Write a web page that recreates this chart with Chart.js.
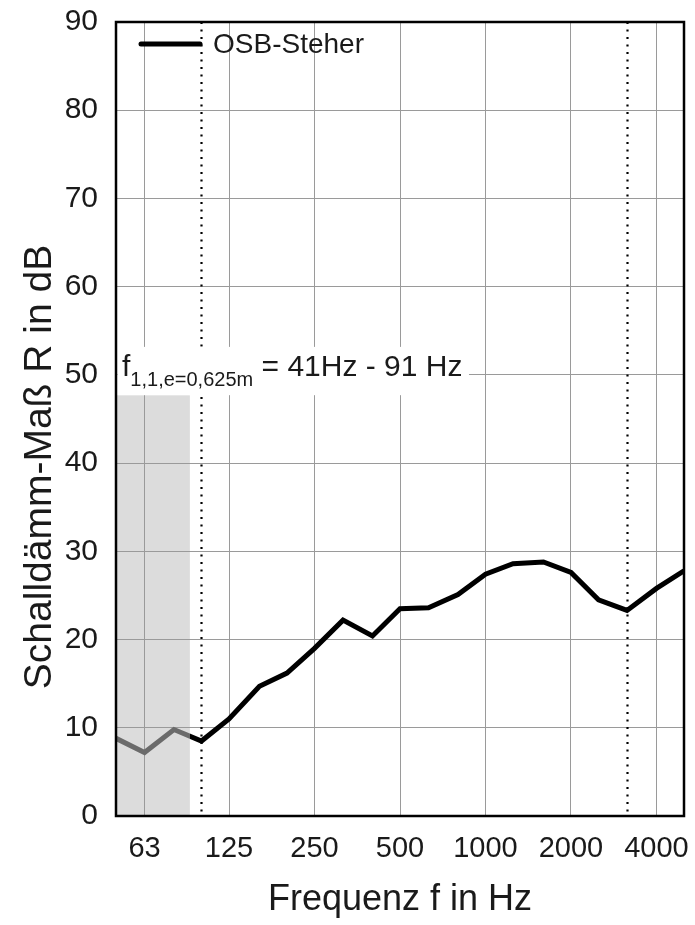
<!DOCTYPE html>
<html lang="de">
<head>
<meta charset="UTF-8">
<title>Schalldämm-Maß OSB-Steher</title>
<style>
  html, body { margin: 0; padding: 0; background: #fff; }
  #wrap { width: 695px; height: 925px; }
</style>
</head>
<body>
<script src="https://cdn.jsdelivr.net/npm/chart.js"></script>
<div id="wrap">
  <canvas id="myChart" width="695" height="925"></canvas>
</div>
<script>
// third-octave bands, Hz
const freqs = [50, 63, 80, 100, 125, 160, 200, 250, 315, 400, 500, 630, 800, 1000, 1250, 1600, 2000, 2500, 3150, 4000, 5000];
// Schalldämm-Maß R in dB
const osbSteher = [8.8, 7.2, 9.8, 8.5, 11.0, 14.7, 16.2, 19.0, 22.2, 20.4, 23.5, 23.6, 25.1, 27.4, 28.6, 28.8, 27.6, 24.5, 23.3, 25.8, 27.8];
const xTickLabels = [63, 125, 250, 500, 1000, 2000, 4000];
const yTickLabels = [0, 10, 20, 30, 40, 50, 60, 70, 80, 90];
const markerFreqs = [100, 3150];      // dotted lines
const shadeRange = [41, 91];          // f_1,1 range
const shadeTop = 47.7;
const yTitle = 'Schalldämm-Maß R in dB';

const FONT = '"Liberation Sans", Arial, sans-serif';
const TXT = '#1a1a1a';
const GRAY = '#6b6b6b';

function lineColor(ctx) {
  const chart = ctx.chart;
  const a = chart.chartArea;
  if (!a) return '#000';
  const px = chart.scales.x.getPixelForValue(shadeRange[1]);
  const t = Math.min(1, Math.max(0, (px - a.left) / (a.right - a.left)));
  const g = chart.ctx.createLinearGradient(a.left, 0, a.right, 0);
  g.addColorStop(0, GRAY);
  g.addColorStop(t, GRAY);
  g.addColorStop(t, '#000');
  g.addColorStop(1, '#000');
  return g;
}

function noPad(s) {
  s.paddingTop = 0; s.paddingBottom = 0;
  s.paddingLeft = 0; s.paddingRight = 0;
}

const extras = {
  id: 'extras',
  beforeDraw(chart) {
    const {ctx, chartArea: a, scales: {x, y}} = chart;
    ctx.save();
    ctx.fillStyle = '#dcdcdc';
    const x0 = Math.max(a.left, x.getPixelForValue(shadeRange[0]));
    const x1 = x.getPixelForValue(shadeRange[1]);
    const yt = y.getPixelForValue(shadeTop);
    ctx.fillRect(x0, yt, x1 - x0, a.bottom - yt);
    ctx.restore();
  },
  beforeDatasetsDraw(chart) {
    const {ctx, chartArea: a, scales: {x, y}} = chart;
    ctx.save();
    // dotted lines
    ctx.strokeStyle = '#000';
    ctx.lineWidth = 2.2;
    ctx.setLineDash([2, 5.5]);
    markerFreqs.forEach(f => {
      const px = Math.round(x.getPixelForValue(f)) + 0.5;
      ctx.beginPath();
      ctx.moveTo(px, a.top);
      ctx.lineTo(px, a.bottom);
      ctx.stroke();
    });
    ctx.setLineDash([]);

    // annotation with white box
    const base = y.getPixelForValue(50) + 1;
    const tx = a.left + 6;
    ctx.font = '30px ' + FONT;
    const wF = ctx.measureText('f').width;
    ctx.font = '20px ' + FONT;
    const sub = '1,1,e=0,625m';
    const wSub = ctx.measureText(sub).width;
    ctx.font = '30px ' + FONT;
    const rest = ' = 41Hz - 91 Hz';
    const wRest = ctx.measureText(rest).width;
    ctx.fillStyle = '#fff';
    ctx.fillRect(a.left + 1.5, base - 29, tx + wF + wSub + wRest + 5 - a.left, y.getPixelForValue(shadeTop) - (base - 29));
    ctx.fillStyle = TXT;
    ctx.textBaseline = 'alphabetic';
    ctx.fillText('f', tx, base);
    ctx.font = '20px ' + FONT;
    ctx.fillText(sub, tx + wF, base + 10);
    ctx.font = '30px ' + FONT;
    ctx.fillText(rest, tx + wF + wSub, base);
    ctx.restore();
  },
  afterDraw(chart) {
    const {ctx, chartArea: a} = chart;
    ctx.save();
    // frame
    ctx.strokeStyle = '#000';
    ctx.lineWidth = 2.5;
    ctx.strokeRect(a.left, a.top, a.right - a.left, a.bottom - a.top);
    // legend
    const ly = a.top + 22;
    ctx.lineWidth = 5;
    ctx.lineCap = 'round';
    ctx.beginPath();
    ctx.moveTo(a.left + 25, ly);
    ctx.lineTo(a.left + 84, ly);
    ctx.stroke();
    ctx.fillStyle = TXT;
    ctx.font = '28px ' + FONT;
    ctx.textBaseline = 'middle';
    ctx.fillText(chart.data.datasets[0].label, a.left + 97, ly + 1);
    // y axis title (sits a bit below the axis centre in the original)
    ctx.translate(40, 467);
    ctx.rotate(-Math.PI / 2);
    ctx.textAlign = 'center';
    ctx.font = '39px ' + FONT;
    ctx.fillText(yTitle, 0, 0);
    ctx.restore();
  }
};

const data = {
  datasets: [{
    label: 'OSB-Steher',
    data: freqs.map((f, i) => ({x: f, y: osbSteher[i]})),
    borderColor: lineColor,
    borderWidth: 5,
    borderJoinStyle: 'miter',
    pointRadius: 0,
    fill: false,
    tension: 0
  }]
};

const config = {
  type: 'line',
  data,
  options: {
    responsive: false,
    animation: false,
    layout: { padding: { left: 0, right: 11, top: 22, bottom: 0 } },
    plugins: {
      legend: { display: false },
      tooltip: { enabled: false }
    },
    scales: {
      x: {
        type: 'logarithmic',
        min: 50,
        max: 5000,
        afterBuildTicks: s => { s.ticks = xTickLabels.map(v => ({value: v})); },
        afterFit: s => { s.height = 109; noPad(s); },
        ticks: {
          autoSkip: false,
          maxRotation: 0,
          padding: 16,
          color: TXT,
          font: { family: FONT, size: 29 },
          callback: v => String(v)
        },
        grid: { color: '#9a9a9a', lineWidth: 1, drawTicks: false },
        border: { display: false },
        title: {
          display: true,
          text: 'Frequenz f in Hz',
          color: TXT,
          font: { family: FONT, size: 36 },
          padding: { top: 0, bottom: 3 }
        }
      },
      y: {
        min: 0,
        max: 90,
        afterBuildTicks: s => { s.ticks = yTickLabels.map(v => ({value: v})); },
        afterFit: s => { s.width = 116; noPad(s); },
        ticks: {
          padding: 18,
          color: TXT,
          font: { family: FONT, size: 30 }
        },
        grid: { color: '#9a9a9a', lineWidth: 1, drawTicks: false },
        border: { display: false },
        title: { display: false, text: yTitle }
      }
    }
  },
  plugins: [extras]
};

var myChart = new Chart(document.getElementById('myChart'), config);
</script>
</body>
</html>
